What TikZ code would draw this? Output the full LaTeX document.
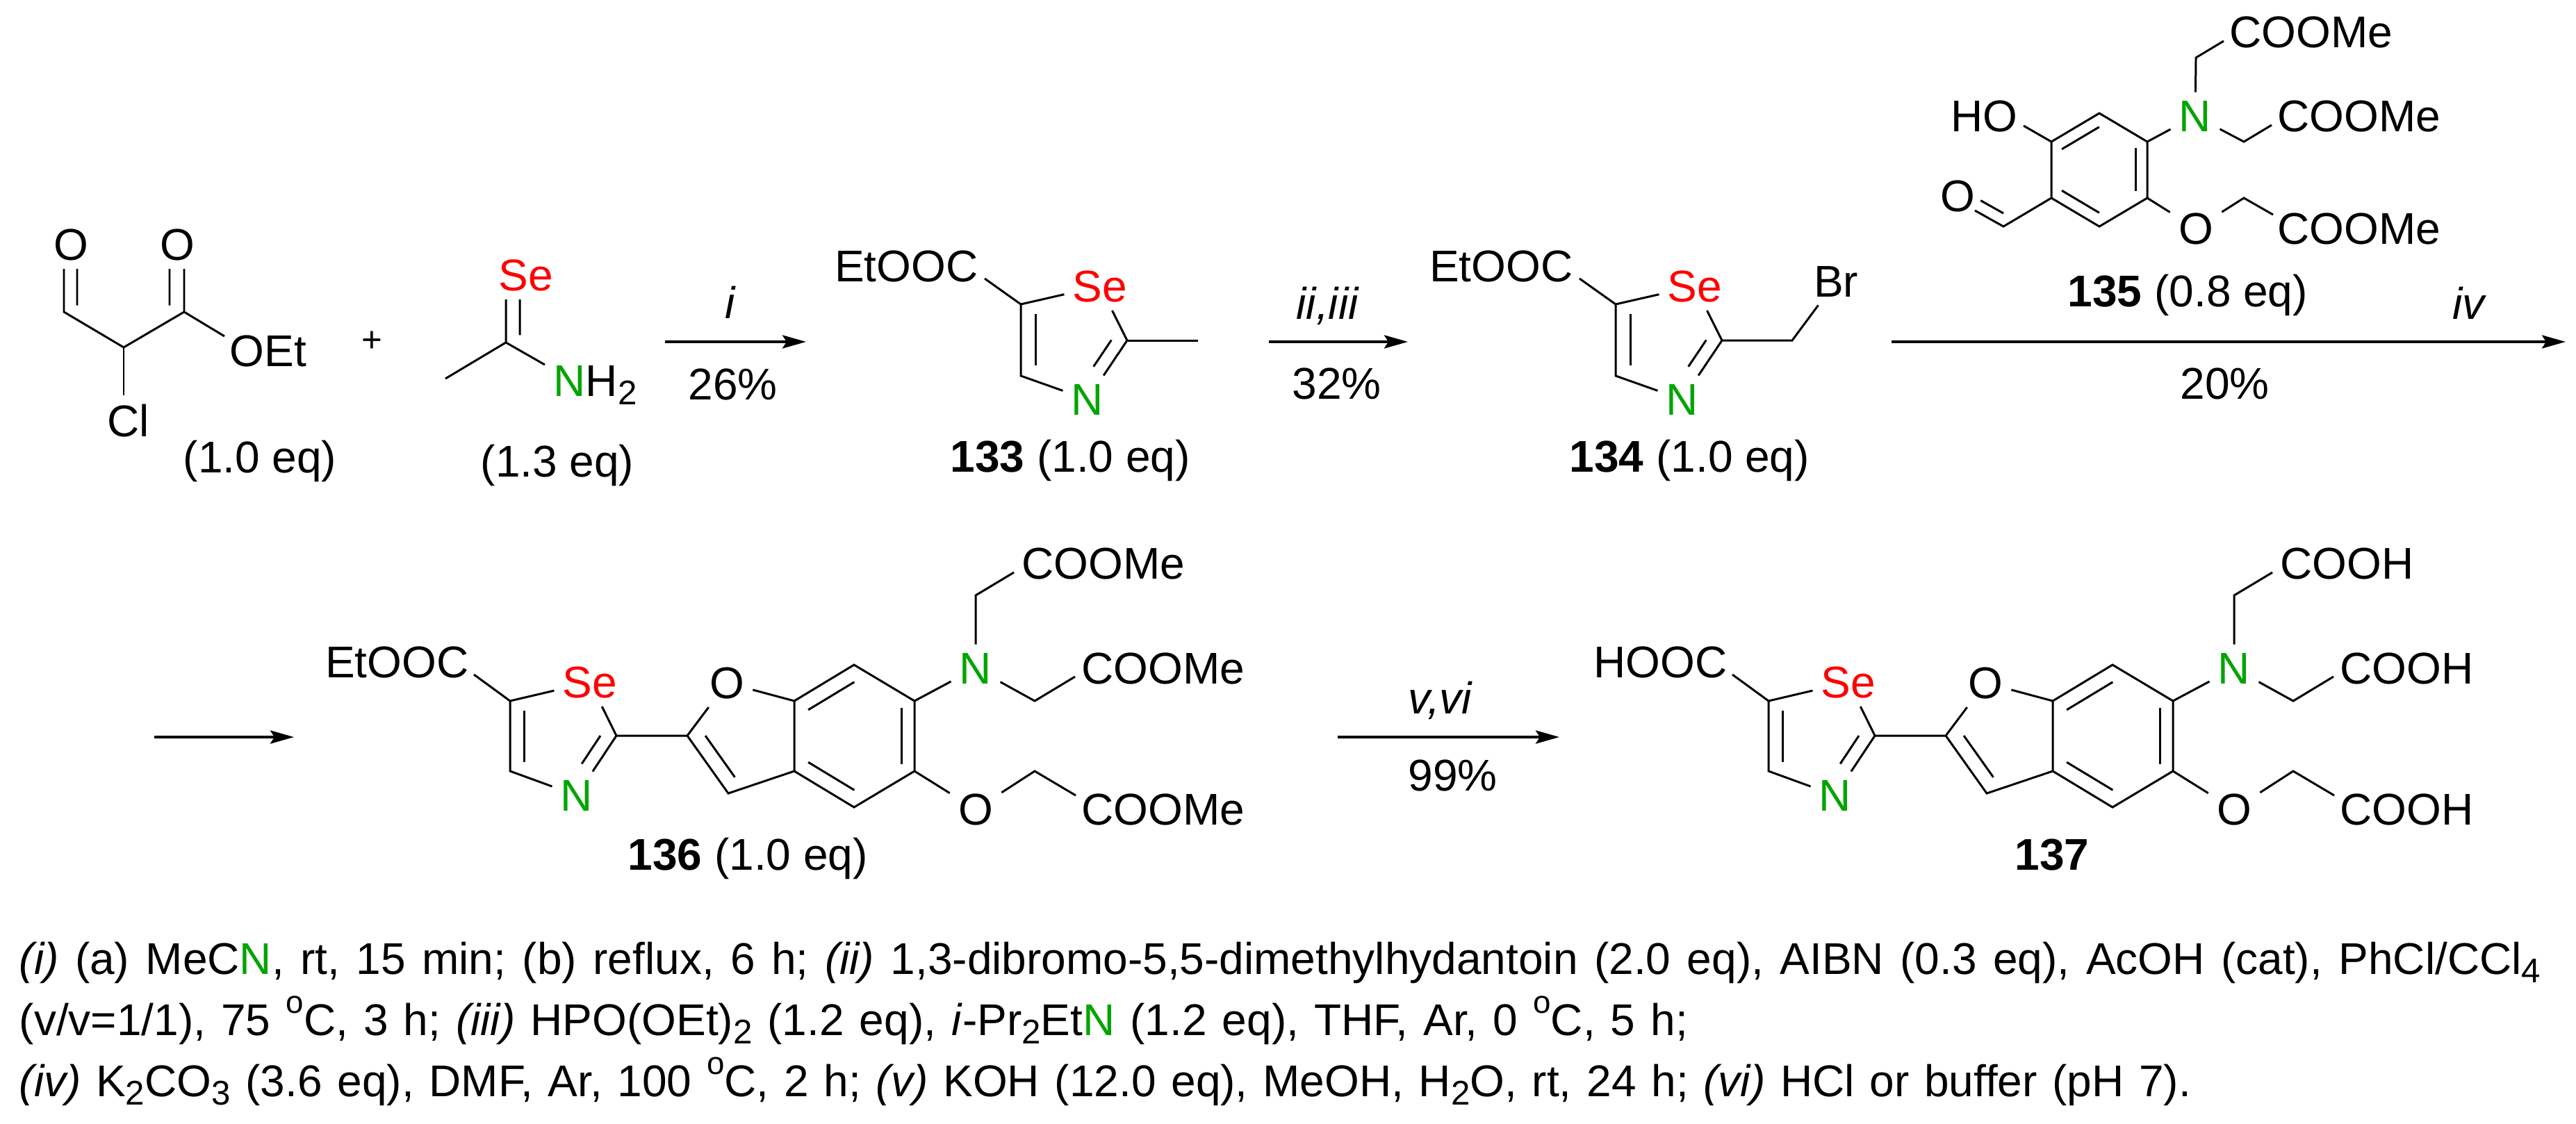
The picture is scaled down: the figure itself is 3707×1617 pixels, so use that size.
\documentclass[tikz,border=0pt]{standalone}
\usepackage{fontspec}
\setmainfont{Liberation Sans}
\usetikzlibrary{calc}
\usetikzlibrary{arrows.meta}
\definecolor{atomgreen}{RGB}{0,165,0}
\newcommand{\chemfont}{\fontsize{18.2}{22}\selectfont}
\newcommand{\chemsub}[1]{\raisebox{-0.19em}{\fontsize{14}{14}\selectfont #1}}
\newcommand{\chemdeg}{\raisebox{0.5em}{\fontsize{13}{13}\selectfont o}}
\newcommand{\GN}{\textcolor{atomgreen}{N}}
\newcommand{\inbond}[5]{\draw[bond] ($(#1)!#3!(#2)+(#5)$) -- ($(#1)!#4!(#2)+(#5)$);}
\tikzset{
	bond/.style={line width=0.85pt},
	rxn/.style={line width=1.15pt,-{Stealth[length=0.34cm,width=0.19cm,inset=0.06cm]}},
	atom/.style={anchor=base,font=\chemfont},
	lab/.style={anchor=base west,inner sep=0pt,font=\chemfont},
	labr/.style={anchor=base east,inner sep=0pt,font=\chemfont},
	note/.style={lab,execute at begin node={\spaceskip=#1em\relax}}
}
\begin{document}
\begin{tikzpicture}[x=0.01cm,y=-0.01cm]
		\useasboundingbox (0,0) rectangle (3707,1617);
		
		% chloro aldehyde ester
		\coordinate (c1) at (92,449);
		\coordinate (c2) at (178,500);
		\coordinate (c3) at (265,449);
		\coordinate (oetend) at (323,484);
		\node[atom] (o1) at (102,374) {O};
		\node[atom] (o2) at (255,374) {O};
		\node[atom] (cl) at (185,628) {Cl};
		\node[lab] (oet) at (330,527) {OEt};
		\draw[bond] (c1 |- o1.south) -- (c1) -- (c2) -- (c3) -- (c3 |- o2.south);
		\draw[bond] (c3) -- (oetend);
		\draw[bond] (c2) -- (c2 |- cl.north);
		\inbond{c1}{c1 |- o1.south}{0.15}{1}{19,0}
		\inbond{c3}{c3 |- o2.south}{0.15}{1}{-21,0}
		\node[lab] (eq1) at (263,680) {(1.0 eq)};
		\node[anchor=base,font=\fontsize{14.5}{16}\selectfont] (plus) at (535,506) {+};
		
		% selenoamide
		\coordinate (c4) at (728,493);
		\coordinate (me1) at (641,545);
		\coordinate (nh2end) at (784,525);
		\node[atom,red] (se1) at (757,418) {Se};
		\node[lab] (nh2) at (796,570) {\GN H\chemsub{2}};
		\draw[bond] (se1.south -| c4) -- (c4) -- (me1);
		\draw[bond] (c4) -- (nh2end);
		\inbond{c4}{se1.south -| c4}{0.17}{1}{20,0}
		\node[lab] (eq2) at (691,686) {(1.3 eq)};
		
		% selenazoles 133 and 134
		\foreach \id/\dx in {a/0,b/856}
		{
		\begin{scope}[shift={(\dx,0)}]
			\coordinate (zfive\id) at (1469,438);
			\coordinate (zfour\id) at (1469,541);
			\coordinate (ztwo\id) at (1622,490);
			\coordinate (headend\id) at (1417,401);
			\node[atom,red] (se\id) at (1583,434) {Se};
			\node[atom,atomgreen] (n\id) at (1565,597) {N};
			\node[labr] (head\id) at (1408,405) {EtOOC};
		\end{scope}
		\draw[bond] (headend\id) -- (zfive\id) -- (se\id);
		\draw[bond] (zfive\id) -- (zfour\id) -- (n\id);
		\draw[bond] (se\id) -- (ztwo\id) -- (n\id);
		\inbond{zfive\id}{zfour\id}{0.14}{0.85}{21,0}
		\inbond{ztwo\id}{n\id}{0.1}{0.55}{-17,-9}
		}
		\coordinate (me2) at (1724,490);
		\draw[bond] (ztwoa) -- (me2);
		\coordinate (chbr) at (2579,490);
		\node[atom] (br) at (2642,427) {Br};
		\draw[bond] (ztwob) -- (chbr) -- (br);
		\node[lab] (eq3) at (1367,679) {\textbf{133} (1.0 eq)};
		\node[lab] (eq4) at (2258,679) {\textbf{134} (1.0 eq)};
		
		% phenol 135
		\coordinate (rone) at (3021,163);
		\coordinate (rtwo) at (3090,204);
		\coordinate (rthree) at (3090,285);
		\coordinate (rfour) at (3021,326);
		\coordinate (rfive) at (2952,285);
		\coordinate (rsix) at (2952,204);
		\coordinate (cho) at (2883,326);
		\coordinate (choend) at (2842,303);
		\coordinate (hoend) at (2912,181);
		\coordinate (cha) at (3160,83);
		\coordinate (chaend) at (3200,59);
		\coordinate (chb) at (3229,204);
		\coordinate (chbend) at (3269,180);
		\coordinate (chc) at (3229,285);
		\coordinate (chcend) at (3271,309);
		\node[atom,atomgreen] (nr) at (3159,189) {N};
		\node[atom] (or) at (3160,351) {O};
		\node[atom] (oald) at (2817,304) {O};
		\node[labr] (ho) at (2904,189) {HO};
		\node[lab] (esta) at (3208,68) {COOMe};
		\node[lab] (estb) at (3277,189) {COOMe};
		\node[lab] (estc) at (3277,351) {COOMe};
		\draw[bond] (rone) -- (rtwo) -- (rthree) -- (rfour) -- (rfive) -- (rsix) -- cycle;
		\inbond{rsix}{rone}{0.08}{0.86}{9.5,14}
		\inbond{rtwo}{rthree}{0.11}{0.88}{-17,0}
		\inbond{rfive}{rfour}{0.08}{0.86}{9.5,-14}
		\draw[bond] (hoend) -- (rsix);
		\draw[bond] (choend) -- (cho) -- (rfive);
		\inbond{cho}{choend}{0}{0.8}{0,-19}
		\draw[bond] (rtwo) -- (nr);
		\draw[bond] (nr) -- (cha) -- (chaend);
		\draw[bond] (nr) -- (chb) -- (chbend);
		\draw[bond] (rthree) -- (or);
		\draw[bond] (or) -- (chc) -- (chcend);
		\node[lab] (eq5) at (2975,441) {\textbf{135} (0.8 eq)};
		
		% benzofurans 136 and 137
		\foreach \id/\dx/\headgroup/\acidgroup in {c/0/EtOOC/COOMe,d/1811/HOOC/COOH}
		{
		\begin{scope}[shift={(\dx,0)}]
			\coordinate (zfive\id) at (734,1009);
			\coordinate (zfour\id) at (734,1110);
			\coordinate (ztwo\id) at (887,1059);
			\coordinate (headend\id) at (682,971);
			\coordinate (futwo\id) at (989,1059);
			\coordinate (futhree\id) at (1048,1142);
			\coordinate (bone\id) at (1143,1009);
			\coordinate (btwo\id) at (1229,957);
			\coordinate (bthree\id) at (1316,1009);
			\coordinate (bfour\id) at (1316,1110);
			\coordinate (bfive\id) at (1229,1162);
			\coordinate (bsix\id) at (1143,1110);
			\coordinate (cha\id) at (1404,857);
			\coordinate (chaend\id) at (1459,824);
			\coordinate (chb\id) at (1489,1009);
			\coordinate (chbend\id) at (1547,974);
			\coordinate (chc\id) at (1489,1110);
			\coordinate (chcend\id) at (1548,1145);
			\node[atom,red] (se\id) at (849,1004) {Se};
			\node[atom,atomgreen] (n\id) at (830,1167) {N};
			\node[atom] (of\id) at (1046,1005) {O};
			\node[atom,atomgreen] (nb\id) at (1404,984) {N};
			\node[atom] (ob\id) at (1404,1187) {O};
			\node[labr] (head\id) at (675,975) {\headgroup};
			\node[lab] (acida\id) at (1470,833) {\acidgroup};
			\node[lab] (acidb\id) at (1556,984) {\acidgroup};
			\node[lab] (acidc\id) at (1556,1187) {\acidgroup};
		\end{scope}
		\draw[bond] (headend\id) -- (zfive\id) -- (se\id);
		\draw[bond] (zfive\id) -- (zfour\id) -- (n\id);
		\draw[bond] (se\id) -- (ztwo\id) -- (n\id);
		\inbond{zfive\id}{zfour\id}{0.14}{0.87}{20,0}
		\inbond{ztwo\id}{n\id}{0}{0.47}{-23,0}
		\draw[bond] (ztwo\id) -- (futwo\id) -- (of\id);
		\draw[bond] (of\id) -- (bone\id);
		\draw[bond] (futwo\id) -- (futhree\id) -- (bsix\id);
		\inbond{futwo\id}{futhree\id}{0}{0.72}{26,0}
		\draw[bond] (bone\id) -- (btwo\id) -- (bthree\id) -- (bfour\id) -- (bfive\id) -- (bsix\id) -- cycle;
		\inbond{bone\id}{btwo\id}{0.1}{0.87}{11.5,18}
		\inbond{bthree\id}{bfour\id}{0.1}{0.9}{-19,0}
		\inbond{bsix\id}{bfive\id}{0.1}{0.87}{11.5,-18}
		\draw[bond] (bthree\id) -- (nb\id);
		\draw[bond] (nb\id) -- (cha\id) -- (chaend\id);
		\draw[bond] (nb\id) -- (chb\id) -- (chbend\id);
		\draw[bond] (bfour\id) -- (ob\id);
		\draw[bond] (ob\id) -- (chc\id) -- (chcend\id);
		}
		\node[lab] (eq6) at (903,1252) {\textbf{136} (1.0 eq)};
		\node[lab] (eq7) at (2899,1252) {\textbf{137}};
		
		% reaction arrows
		\coordinate (ia) at (957,492);
		\coordinate (ib) at (1160,492);
		\coordinate (iia) at (1826,492);
		\coordinate (iib) at (2026,492);
		\coordinate (iva) at (2722,492);
		\coordinate (ivb) at (3692,492);
		\coordinate (ivc) at (222,1061);
		\coordinate (ivd) at (423,1061);
		\coordinate (va) at (1925,1061);
		\coordinate (vb) at (2244,1061);
		\draw[rxn] (ia) -- (ib);
		\draw[rxn] (iia) -- (iib);
		\draw[rxn] (iva) -- (ivb);
		\draw[rxn] (ivc) -- (ivd);
		\draw[rxn] (va) -- (vb);
		\node[lab] (labi) at (1043,458) {\textit{i}};
		\node[lab] (yi) at (990,575) {26\%};
		\node[lab] (labii) at (1865,459) {\textit{ii,iii}};
		\node[lab] (yii) at (1859,574) {32\%};
		\node[lab] (labiv) at (3529,459) {\textit{iv}};
		\node[lab] (yiv) at (3137,574) {20\%};
		\node[lab] (labv) at (2026,1027) {\textit{v,vi}};
		\node[lab] (yv) at (2026,1138) {99\%};
		
		% conditions
		\node[note=0.367] (notea) at (27,1402) {\textit{(i)} (a) MeC\GN, rt, 15 min; (b) reflux, 6 h; \textit{(ii)} 1,3-dibromo-5,5-dimethylhydantoin (2.0 eq), AIBN (0.3 eq), AcOH (cat), PhCl/CCl\chemsub{4}};
		\node[note=0.345] (noteb) at (27,1490) {(v/v=1/1), 75 \chemdeg C, 3 h; \textit{(iii)} HPO(OEt)\chemsub{2} (1.2 eq), \textit{i}-Pr\chemsub{2}Et\GN\ (1.2 eq), THF, Ar, 0 \chemdeg C, 5 h;};
		\node[note=0.34] (notec) at (27,1578) {\textit{(iv)} K\chemsub{2}CO\chemsub{3} (3.6 eq), DMF, Ar, 100 \chemdeg C, 2 h; \textit{(v)} KOH (12.0 eq), MeOH, H\chemsub{2}O, rt, 24 h; \textit{(vi)} HCl or buffer (pH 7).};
\end{tikzpicture}
\end{document}
